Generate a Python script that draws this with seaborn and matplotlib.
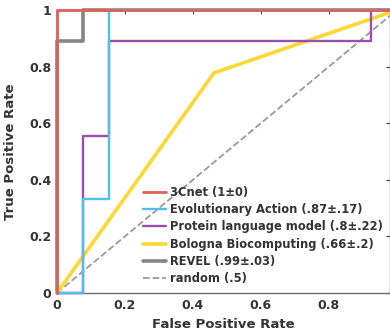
import numpy as np
import pandas as pd
import matplotlib
matplotlib.use("Agg")
import matplotlib.pyplot as plt
import seaborn as sns

# ROC curve vertices (13 negatives, 9 positives)
fpr_3cnet = [0, 0, 1]
tpr_3cnet = [0, 1, 1]

fpr_ea = [0, 0.077, 0.077, 0.154, 0.154, 1]
tpr_ea = [0, 0, 0.333, 0.333, 1, 1]

fpr_plm = [0, 0.077, 0.077, 0.154, 0.154, 0.923, 0.923, 1]
tpr_plm = [0, 0, 0.556, 0.556, 0.889, 0.889, 1, 1]

fpr_bologna = [0, 0.462, 1]
tpr_bologna = [0, 0.778, 1]

fpr_revel = [0, 0, 0.077, 0.077, 1]
tpr_revel = [0, 0.889, 0.889, 1, 1]

fpr_random = [0, 1]
tpr_random = [0, 1]

labels = ["3Cnet (1±0)", "Evolutionary Action (.87±.17)",
          "Protein language model (.8±.22)", "Bologna Biocomputing (.66±.2)",
          "REVEL (.99±.03)", "random (.5)"]
colors = ["#e0605a", "#4fc0ee", "#9a4fb0", "#fdd835", "#858585", "#9a9a9a"]
widths = [2.0, 1.7, 1.7, 2.6, 2.6, 1.3]
styles = ["-", "-", "-", "-", "-", "--"]
curves = [(fpr_3cnet, tpr_3cnet), (fpr_ea, tpr_ea), (fpr_plm, tpr_plm),
          (fpr_bologna, tpr_bologna), (fpr_revel, tpr_revel),
          (fpr_random, tpr_random)]

sns.set_style("white")
plt.rcParams['font.family'] = ['DejaVu Sans']

fig = plt.figure(figsize=(3.9, 3.36), dpi=100)
ax = fig.add_axes([0.146, 0.128, 0.854, 0.842])

n = len(curves)
for i, ((x, y), lab) in enumerate(zip(curves, labels)):
    df = pd.DataFrame({"fpr": x, "tpr": y})
    sns.lineplot(data=df, x="fpr", y="tpr", sort=False, estimator=None,
                 color=colors[i], linewidth=widths[i], linestyle=styles[i],
                 label=lab, ax=ax, zorder=n - i + 2, clip_on=False)

ax.set_xlim(0, 0.98)
ax.set_ylim(0, 1)
ax.set_xticks([0, 0.2, 0.4, 0.6, 0.8])
ax.set_xticklabels(["0", "0.2", "0.4", "0.6", "0.8"])
ax.set_yticks([0, 0.2, 0.4, 0.6, 0.8, 1])
ax.set_yticklabels(["0", "0.2", "0.4", "0.6", "0.8", "1"])
ax.tick_params(direction="in", length=3, width=0.8, colors="#444444",
               labelsize=9, top=True, right=True, pad=4)
for t in ax.get_xticklabels() + ax.get_yticklabels():
    t.set_fontweight("bold")
    t.set_color("#333333")
for s in ax.spines.values():
    s.set_color("#6f6f6f")
    s.set_linewidth(1.0)

ax.set_xlabel("False Positive Rate", fontsize=9.5, fontweight="bold",
              color="#333333", labelpad=5)
ax.set_ylabel("True Positive Rate", fontsize=9.5, fontweight="bold",
              color="#333333", labelpad=9)

leg = ax.legend(loc="lower right", frameon=False, fontsize=8.3,
                handlelength=2.0, handletextpad=0.3, labelspacing=0.38,
                borderaxespad=0.25)
for t in leg.get_texts():
    t.set_fontweight("bold")
    t.set_color("#333333")

fig.savefig("out.png", dpi=100)
